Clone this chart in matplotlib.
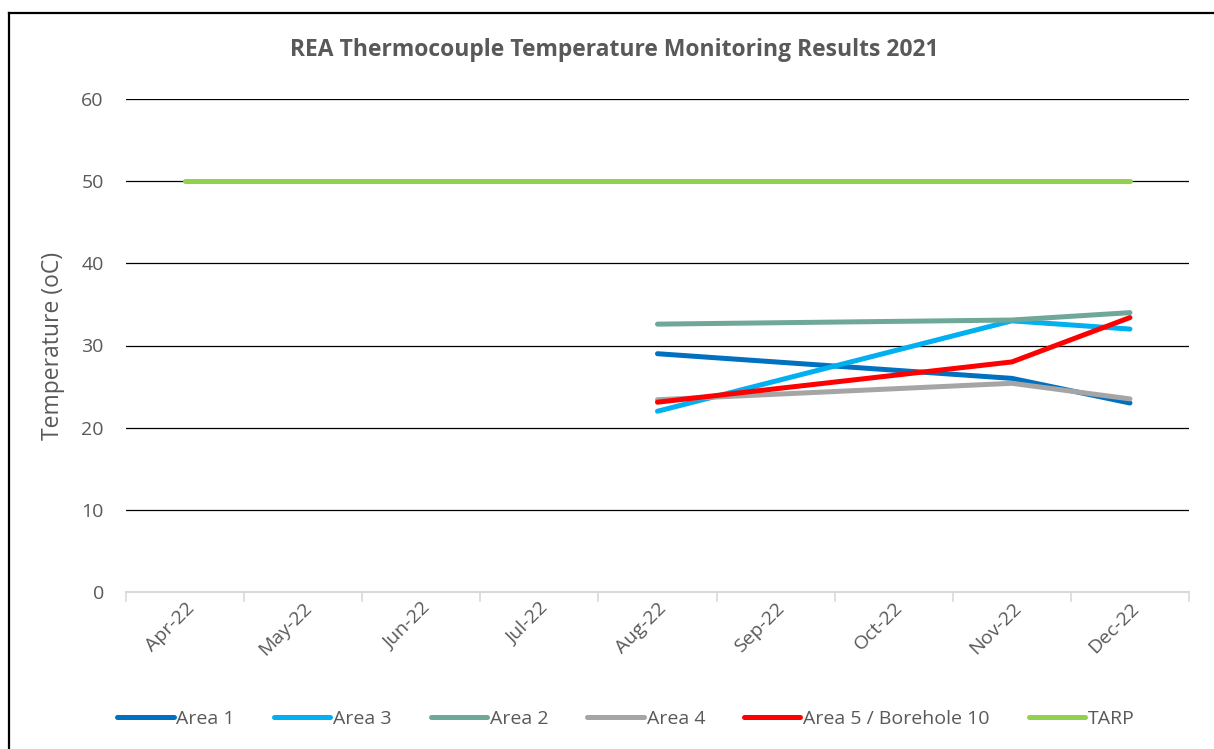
import matplotlib
matplotlib.use("Agg")
import matplotlib.pyplot as plt
from matplotlib.lines import Line2D
import numpy as np

months = ["Apr-22", "May-22", "Jun-22", "Jul-22", "Aug-22", "Sep-22", "Oct-22", "Nov-22", "Dec-22"]
area1 = [None, None, None, None, 29.0, None, None, 26.0, 23.0]
area3 = [None, None, None, None, 22.0, None, None, 33.0, 32.0]
area2 = [None, None, None, None, 32.6, None, None, 33.1, 34.0]
area4 = [None, None, None, None, 23.4, None, None, 25.4, 23.5]
area5 = [None, None, None, None, 23.1, None, None, 28.0, 33.4]
tarp = [50, 50, 50, 50, 50, 50, 50, 50, 50]

series = [
    ("Area 1", area1, "#0070C0"),
    ("Area 3", area3, "#00B0F0"),
    ("Area 2", area2, "#6FA898"),
    ("Area 4", area4, "#A5A5A5"),
    ("Area 5 / Borehole 10", area5, "#FF0000"),
    ("TARP", tarp, "#92D050"),
]

plt.rcParams['font.family'] = ['Open Sans', 'DejaVu Sans']
txt = "#595959"

fig = plt.figure(figsize=(12.14, 7.49), dpi=100)
ax = fig.add_axes([126/1214, 1-592/749, (1189-126)/1214, (592-99)/749])

handles = []
for name, vals, col in series:
    xs = [i for i, v in enumerate(vals) if v is not None]
    ys = [v for v in vals if v is not None]
    ln, = ax.plot(xs, ys, color=col, lw=3.6, solid_capstyle='round',
                  solid_joinstyle='round', label=name)
    handles.append(ln)

ax.set_xlim(-0.5, len(months) - 0.5)
ax.set_ylim(0, 60)
ax.set_yticks(range(0, 61, 10))
ax.yaxis.grid(True, color='black', lw=0.9)
ax.set_axisbelow(True)
ax.tick_params(axis='y', length=0, labelsize=14, labelcolor=txt, pad=16)
ax.set_xticks(range(len(months)))
ax.set_xticklabels(months, rotation=45, ha='right', rotation_mode='anchor')
ax.tick_params(axis='x', which='major', length=0, labelsize=14, labelcolor=txt, pad=5)
ax.set_xticks(np.arange(-0.5, len(months), 1.0), minor=True)
ax.tick_params(axis='x', which='minor', length=7, color='#D9D9D9', width=1.2)
for s in ['top', 'right', 'left']:
    ax.spines[s].set_visible(False)
ax.spines['bottom'].set_color('#D9D9D9')
ax.spines['bottom'].set_linewidth(1.5)
ax.spines['bottom'].set_zorder(3)

ax.set_ylabel("Temperature (oC)", fontsize=16.5, color=txt, labelpad=12)
fig.text(614/1214, 1-50/749, "REA Thermocouple Temperature Monitoring Results 2021",
         ha='center', va='center', fontsize=16.5, fontweight='bold', color=txt)

leg = fig.legend(handles=handles, loc='center', bbox_to_anchor=(626/1214, 1-719/749), ncol=6,
                 frameon=False, fontsize=14, handlelength=2.9, handletextpad=0.15,
                 columnspacing=2.0, labelcolor=txt)

fig.add_artist(Line2D([9/1214, 9/1214], [0, 1-12.5/749], color='black', lw=1.6,
                      transform=fig.transFigure))
fig.add_artist(Line2D([9/1214, 1], [1-12.5/749, 1-12.5/749], color='black', lw=1.6,
                      transform=fig.transFigure))

fig.savefig("out.png", dpi=100)
